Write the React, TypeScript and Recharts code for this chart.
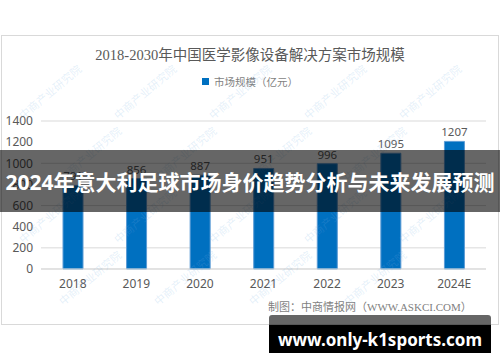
import { BarChart, Bar, XAxis, YAxis, CartesianGrid, Legend, LabelList } from 'recharts';

const years = ['2018', '2019', '2020', '2021', '2022', '2023', '2024E'];
const marketSize = [791, 856, 887, 951, 996, 1095, 1207];
const yTicks = [0, 200, 400, 600, 800, 1000, 1200, 1400];

const title = '2018-2030年中国医学影像设备解决方案市场规模';
const seriesName = '市场规模（亿元）';
const source = '制图：中商情报网（WWW.ASKCI.COM）';
const banner = '2024年意大利足球市场身价趋势分析与未来发展预测';
const site = 'www.only-k1sports.com';
const watermark = '中商产业研究院';

const data = years.map((year, i) => ({ year, value: marketSize[i] }));

const serif = '"Liberation Serif", "DejaVu Serif", "Noto Sans CJK SC", serif';
const sans = '"Noto Sans", "Noto Sans CJK SC", sans-serif';

// faint watermark grid, kept inside the frame
const wmSpots: [number, number][] = [];
for (let r = 0; r < 4; r++) {
  for (let c = 0; c < 5; c++) {
    const x = 15 + c * 95 + (r % 2) * 40;
    if (x < 420) wmSpots.push([x, 110 + r * 62]);
  }
}

function LegendBox() {
  return (
    <div style={{ display: 'flex', alignItems: 'center', justifyContent: 'center', fontFamily: serif, fontSize: 10.5, color: '#7f7f7f' }}>
      <span style={{ width: 7, height: 7, background: '#0070C0', marginRight: 5, display: 'inline-block' }} />
      {seriesName}
    </div>
  );
}

export default function App() {
  return (
    <div style={{ position: 'absolute', left: 0, top: 0, width: 500, height: 362, background: '#fff', overflow: 'hidden' }}>
      <div style={{ position: 'absolute', left: 1, top: 35, width: 498, height: 290, border: '1px solid #d9d9d9', boxSizing: 'border-box' }} />
      <div style={{ position: 'absolute', left: 0, top: 43, width: 500, textAlign: 'center', fontFamily: serif, fontSize: 14.5, color: '#595959' }}>
        {title}
      </div>
      <div style={{ position: 'absolute', left: 0, top: 0 }}>
        <BarChart width={500} height={362} data={data} margin={{ top: 106, right: 14, bottom: 63, left: 0 }}>
          <CartesianGrid vertical={false} stroke="#d9d9d9" />
          <XAxis
            dataKey="year"
            height={30}
            stroke="#d9d9d9"
            tickLine={false}
            tickMargin={4}
            tick={{ fill: '#595959', fontSize: 12, fontFamily: sans }}
          />
          <YAxis
            width={41}
            domain={[0, 1400]}
            ticks={yTicks}
            axisLine={false}
            tickLine={false}
            tick={{ fill: '#595959', fontSize: 12, fontFamily: sans }}
          />
          <Legend
            verticalAlign="top"
            content={() => <LegendBox />}
            wrapperStyle={{ top: 74, left: 0, width: 500 }}
          />
          <Bar dataKey="value" name={seriesName} fill="#0070C0" stroke="#5b9bd5" strokeWidth={1} barSize={20} isAnimationActive={false}>
            <LabelList dataKey="value" position="top" offset={5} fill="#595959" fontSize={11.5} fontFamily={sans} />
          </Bar>
        </BarChart>
      </div>
      <div style={{ position: 'absolute', left: 268, top: 298, fontFamily: serif, fontSize: 11, color: '#7f7f7f' }}>
        {source}
      </div>
      {wmSpots.map(([x, y], i) => (
        <div
          key={i}
          style={{
            position: 'absolute',
            left: x,
            top: y,
            transform: 'rotate(-40deg)',
            transformOrigin: 'left top',
            fontFamily: sans,
            fontSize: 11,
            color: 'rgba(120,175,225,0.2)',
            whiteSpace: 'nowrap',
            pointerEvents: 'none',
          }}
        >
          {watermark}
        </div>
      ))}
      <div
        style={{
          position: 'absolute',
          left: 0,
          top: 150,
          width: 500,
          height: 62,
          background: 'rgba(0,0,0,0.6)',
          display: 'flex',
          alignItems: 'center',
          justifyContent: 'center',
          fontFamily: sans,
          fontWeight: 700,
          fontSize: 21,
          color: '#fff',
          whiteSpace: 'nowrap',
        }}
      >
        {banner}
      </div>
      <div style={{ position: 'absolute', left: 269, top: 315, width: 222, height: 38, background: 'rgba(0,0,0,0.6)', borderRadius: 3 }}>
        <div
          style={{
            position: 'absolute',
            left: 0,
            top: 10,
            width: 222,
            height: 28,
            background: '#000',
            display: 'flex',
            alignItems: 'center',
            justifyContent: 'center',
            fontFamily: sans,
            fontWeight: 700,
            fontSize: 17,
            color: '#fff',
          }}
        >
          {site}
        </div>
      </div>
    </div>
  );
}
